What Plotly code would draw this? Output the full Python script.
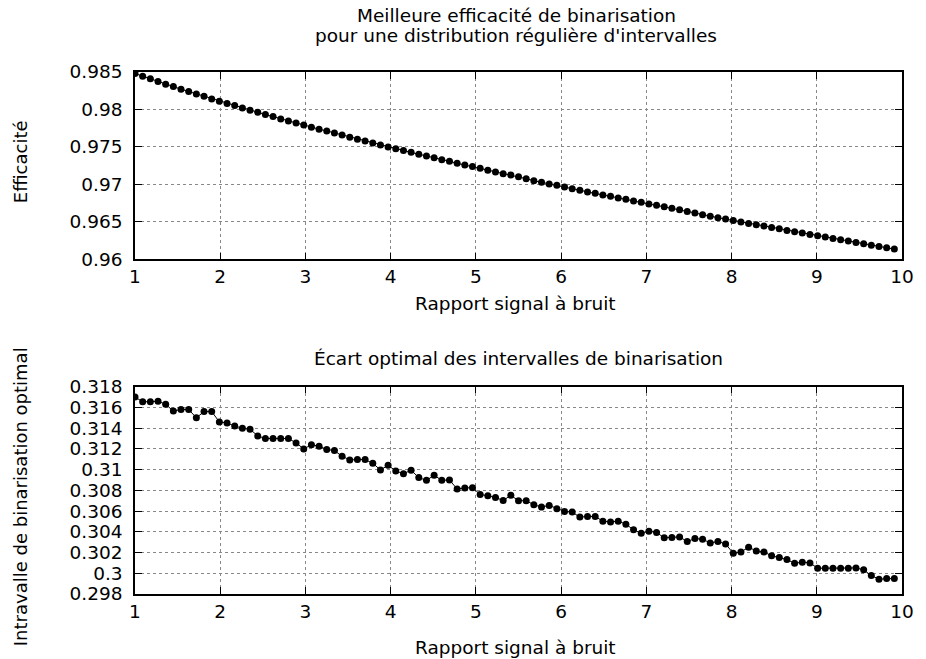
import plotly.graph_objects as go

# Signal-to-noise ratio values (x)
snr = [1.00, 1.09, 1.18, 1.27, 1.36, 1.45, 1.54, 1.63, 1.72, 1.81,
       1.90, 1.99, 2.08, 2.17, 2.26, 2.35, 2.44, 2.53, 2.62, 2.71,
       2.80, 2.89, 2.98, 3.07, 3.16, 3.25, 3.34, 3.43, 3.52, 3.61,
       3.70, 3.79, 3.88, 3.97, 4.06, 4.15, 4.24, 4.33, 4.42, 4.51,
       4.60, 4.69, 4.78, 4.87, 4.96, 5.05, 5.14, 5.23, 5.32, 5.41,
       5.50, 5.59, 5.68, 5.77, 5.86, 5.95, 6.04, 6.13, 6.22, 6.31,
       6.40, 6.49, 6.58, 6.67, 6.76, 6.85, 6.94, 7.03, 7.12, 7.21,
       7.30, 7.39, 7.48, 7.57, 7.66, 7.75, 7.84, 7.93, 8.02, 8.11,
       8.20, 8.29, 8.38, 8.47, 8.56, 8.65, 8.74, 8.83, 8.92, 9.01,
       9.10, 9.19, 9.28, 9.37, 9.46, 9.55, 9.64, 9.73, 9.82, 9.91]

# Best binning efficiency (upper panel)
efficacite = [0.98480, 0.98444, 0.98409, 0.98373, 0.98337, 0.98306, 0.98270, 0.98239, 0.98208, 0.98177,
              0.98141, 0.98110, 0.98079, 0.98052, 0.98021, 0.97990, 0.97963, 0.97932, 0.97905, 0.97874,
              0.97847, 0.97820, 0.97794, 0.97762, 0.97736, 0.97713, 0.97687, 0.97660, 0.97629, 0.97602,
              0.97580, 0.97553, 0.97526, 0.97500, 0.97477, 0.97451, 0.97428, 0.97401, 0.97379, 0.97357,
              0.97330, 0.97308, 0.97281, 0.97259, 0.97237, 0.97214, 0.97188, 0.97165, 0.97143, 0.97125,
              0.97103, 0.97076, 0.97049, 0.97027, 0.97005, 0.96987, 0.96965, 0.96943, 0.96920, 0.96898,
              0.96880, 0.96858, 0.96840, 0.96818, 0.96800, 0.96778, 0.96760, 0.96738, 0.96720, 0.96702,
              0.96680, 0.96662, 0.96639, 0.96618, 0.96595, 0.96573, 0.96555, 0.96537, 0.96519, 0.96497,
              0.96479, 0.96461, 0.96443, 0.96426, 0.96408, 0.96385, 0.96368, 0.96350, 0.96332, 0.96314,
              0.96296, 0.96279, 0.96261, 0.96243, 0.96225, 0.96207, 0.96189, 0.96172, 0.96154, 0.96136]

# Optimal bin spacing (lower panel)
intervalle = [0.31700, 0.31655, 0.31655, 0.31660, 0.31630, 0.31565, 0.31580, 0.31580, 0.31500, 0.31560,
              0.31560, 0.31460, 0.31450, 0.31420, 0.31400, 0.31390, 0.31325, 0.31300, 0.31300, 0.31300,
              0.31300, 0.31258, 0.31200, 0.31240, 0.31226, 0.31194, 0.31184, 0.31129, 0.31094, 0.31097,
              0.31097, 0.31061, 0.30997, 0.31042, 0.30987, 0.30961, 0.30994, 0.30923, 0.30897, 0.30945,
              0.30897, 0.30900, 0.30813, 0.30823, 0.30826, 0.30761, 0.30747, 0.30732, 0.30702, 0.30752,
              0.30700, 0.30700, 0.30661, 0.30639, 0.30655, 0.30623, 0.30597, 0.30590, 0.30542, 0.30548,
              0.30548, 0.30503, 0.30494, 0.30503, 0.30474, 0.30419, 0.30387, 0.30406, 0.30394, 0.30342,
              0.30345, 0.30351, 0.30306, 0.30335, 0.30328, 0.30293, 0.30306, 0.30283, 0.30193, 0.30206,
              0.30251, 0.30216, 0.30206, 0.30168, 0.30152, 0.30132, 0.30097, 0.30107, 0.30100, 0.30049,
              0.30049, 0.30049, 0.30049, 0.30049, 0.30052, 0.30033, 0.29978, 0.29943, 0.29950, 0.29950]

x_ticks = [1, 2, 3, 4, 5, 6, 7, 8, 9, 10]
x_ticklabels = ["1", "2", "3", "4", "5", "6", "7", "8", "9", "10"]
y1_ticks = [0.96, 0.965, 0.97, 0.975, 0.98, 0.985]
y1_ticklabels = ["0.96", "0.965", "0.97", "0.975", "0.98", "0.985"]
y2_ticks = [0.298, 0.300, 0.302, 0.304, 0.306, 0.308, 0.310, 0.312, 0.314, 0.316, 0.318]
y2_ticklabels = ["0.298", "0.3", "0.302", "0.304", "0.306", "0.308", "0.31", "0.312", "0.314", "0.316", "0.318"]

title_top_1 = "Meilleure efficacité de binarisation"
title_top_2 = "pour une distribution régulière d'intervalles"
title_bottom = "Écart optimal des intervalles de binarisation"
xlabel = "Rapport signal à bruit"
ylabel_top = "Efficacité"
ylabel_bottom = "Intravalle de binarisation optimal"

FONT = "DejaVu Sans, Liberation Sans, sans-serif"
FS = 18.5

fig = go.Figure()
line_style = dict(color="black", width=1)
marker_style = dict(color="black", size=7, symbol="circle")
fig.add_trace(go.Scatter(x=snr, y=efficacite, mode="lines+markers", line=line_style,
                         marker=marker_style, xaxis="x", yaxis="y", showlegend=False))
fig.add_trace(go.Scatter(x=snr, y=intervalle, mode="lines+markers", line=line_style,
                         marker=marker_style, xaxis="x2", yaxis="y2", showlegend=False))

L, R, T, B = 135, 16, 72, 65
W, H = 926, 659
PW, PH = W - L - R, H - T - B


def py(ypix):
    return (H - B - ypix) / PH


def px(xpix):
    return (xpix - L) / PW


axis_common = dict(
    showline=True, linecolor="black", linewidth=1.5, mirror="ticks",
    ticks="inside", ticklen=7, tickcolor="black", tickwidth=1.2,
    showgrid=True, gridcolor="#888888", griddash="dot", gridwidth=1,
    zeroline=False,
    tickfont=dict(family=FONT, size=FS, color="black"),
)

fig.update_layout(
    width=W, height=H,
    margin=dict(l=L, r=R, t=T, b=B),
    paper_bgcolor="white", plot_bgcolor="white",
    hovermode=False,
    xaxis=dict(domain=[0, 1], range=[1, 10], tickvals=x_ticks, ticktext=x_ticklabels,
               anchor="y", **axis_common),
    yaxis=dict(domain=[py(259.3), 1.0], range=[0.96, 0.985], tickvals=y1_ticks,
               ticktext=y1_ticklabels, anchor="x", ticklabelstandoff=7, **axis_common),
    xaxis2=dict(domain=[0, 1], range=[1, 10], tickvals=x_ticks, ticktext=x_ticklabels,
                anchor="y2", **axis_common),
    yaxis2=dict(domain=[0, py(386.7)], range=[0.298, 0.318], tickvals=y2_ticks,
                ticktext=y2_ticklabels, anchor="x2", ticklabelstandoff=7, **axis_common),
)

ann_font = dict(family=FONT, size=FS, color="black")
yt_font = dict(family=FONT, size=18, color="black")
annotations = [
    dict(text=title_top_1, x=px(520), y=py(16), xref="paper", yref="paper",
         showarrow=False, font=ann_font, xanchor="center", yanchor="middle"),
    dict(text=title_top_2, x=px(520), y=py(35), xref="paper", yref="paper",
         showarrow=False, font=ann_font, xanchor="center", yanchor="middle"),
    dict(text=title_bottom, x=px(522), y=py(358), xref="paper", yref="paper",
         showarrow=False, font=ann_font, xanchor="center", yanchor="middle"),
    dict(text=xlabel, x=px(519), y=py(303), xref="paper", yref="paper",
         showarrow=False, font=ann_font, xanchor="center", yanchor="middle"),
    dict(text=xlabel, x=px(519), y=py(647), xref="paper", yref="paper",
         showarrow=False, font=ann_font, xanchor="center", yanchor="middle"),
    dict(text=ylabel_top, x=px(19), y=py(162), xref="paper", yref="paper", textangle=-90,
         showarrow=False, font=yt_font, xanchor="center", yanchor="middle"),
    dict(text=ylabel_bottom, x=px(19), y=py(497), xref="paper", yref="paper", textangle=-90,
         showarrow=False, font=yt_font, xanchor="center", yanchor="middle"),
]
fig.update_layout(annotations=annotations)

fig.write_html("out.html", config={"displayModeBar": False},
               post_script="document.body.style.margin='0';")
